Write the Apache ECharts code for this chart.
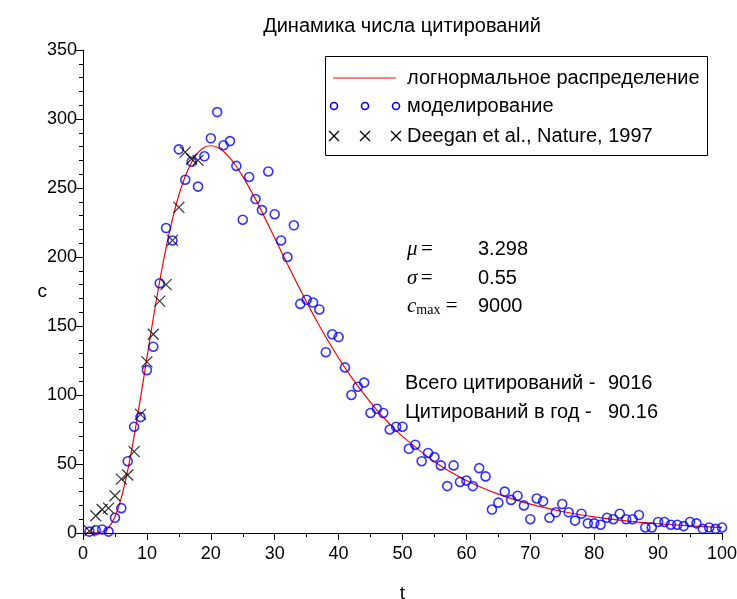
<!DOCTYPE html>
<html>
<head>
<meta charset="utf-8">
<script src="https://cdn.jsdelivr.net/npm/echarts@6/dist/echarts.min.js"></script>
<style>
  html, body { margin: 0; padding: 0; background: #fff; }
  #chart { width: 737px; height: 599px; }
</style>
</head>
<body>
<div id="chart"></div>
<script>
// логнормальная кривая
const curveT = [0, 1, 2, 3, 4, 5, 6, 7, 8, 9, 10, 11, 12, 13, 14, 15, 16, 17, 18, 19, 20,
  21, 22, 23, 24, 25, 26, 27, 28, 30, 32, 34, 36, 38, 40, 42, 44, 46, 48, 50,
  55, 60, 65, 70, 75, 80, 85, 90, 95, 100];
const curveC = [0, 0, 0.1, 0.7, 3.9, 11.7, 25.6, 45.5, 70, 97.8, 126.9, 155.6, 182.4, 206.6, 227.5, 244.9, 258.5, 268.7, 275.6, 279.5, 280.6,
  279.5, 276.4, 271.7, 265.6, 258.4, 250.4, 241.8, 232.7, 213.8, 194.7, 176.2, 158.5, 142, 126.8, 112.9, 100.4, 89.1, 79, 70,
  51.7, 38.1, 28.2, 20.9, 15.6, 11.7, 8.8, 6.7, 5.1, 3.9];

// моделирование, годы 1..100
const simC = [1, 2, 2.5, 1, 11, 18, 52, 77, 84, 118,
  135, 181, 221, 212, 278, 256, 269, 251, 273, 286,
  305, 281, 284, 266, 227, 258, 242, 234, 262, 231,
  212, 200, 223, 166, 169, 167, 162, 131, 144, 142,
  120, 100, 106, 109, 87, 90, 87, 75, 77, 77,
  61, 64, 52, 58, 55, 49, 34, 49, 37, 38,
  34, 47, 41, 17, 22, 30, 24, 27, 20, 10,
  25, 23, 11, 15, 21, 15, 9, 14, 7, 7,
  6, 11, 10, 14, 10, 10, 13, 4, 4, 8,
  8, 6, 6, 5, 8, 7, 3, 4, 3, 4];

// Deegan et al., Nature, 1997
const deeganT = [1, 2, 3, 4, 5, 6, 7, 8, 9, 10, 11, 12, 13, 14, 15, 16, 17, 18];
const deeganC = [1.5, 12.5, 17, 18, 27, 39, 42, 59, 86, 124, 144, 168, 180, 212, 236, 276, 271, 270];

const xTicks = [0, 10, 20, 30, 40, 50, 60, 70, 80, 90, 100];
const yTicks = [0, 50, 100, 150, 200, 250, 300, 350];

const FONT = "Arial, 'Liberation Sans', sans-serif";
const SERIF = "'Liberation Serif', 'DejaVu Serif', serif";
const TXT = "20px " + FONT;
const crossPath = "path://M0,0L10,10M10,0L0,10";

let chart = echarts.init(document.getElementById("chart"), null, { renderer: "canvas" });

let option = {
  animation: false,
  backgroundColor: "#fff",
  textStyle: { fontFamily: FONT },
  title: {
    text: "Динамика числа цитирований",
    left: 397,
    top: 11,
    textAlign: "center",
    textStyle: { fontFamily: FONT, fontSize: 20, fontWeight: "normal", color: "#000" }
  },
  grid: { left: 83, top: 50, width: 639, height: 483, containLabel: false, outerBoundsMode: "none" },
  xAxis: {
    type: "value",
    min: xTicks[0],
    max: xTicks[xTicks.length - 1],
    interval: 10,
    name: "t",
    nameLocation: "middle",
    nameGap: 51,
    nameMoveOverlap: false,
    nameTextStyle: { fontSize: 19, color: "#000", fontFamily: FONT },
    axisLine: { lineStyle: { color: "#000", width: 1 } },
    axisTick: { show: true, inside: false, length: 7, lineStyle: { color: "#000" } },
    minorTick: { show: true, splitNumber: 2, length: 4, lineStyle: { color: "#000" } },
    axisLabel: { fontSize: 18, color: "#000", margin: 12, fontFamily: FONT },
    splitLine: { show: false }
  },
  yAxis: {
    type: "value",
    min: yTicks[0],
    max: yTicks[yTicks.length - 1],
    interval: 50,
    name: "c",
    nameLocation: "middle",
    nameRotate: 0,
    nameGap: 36,
    nameMoveOverlap: false,
    nameTextStyle: { fontSize: 19, color: "#000", fontFamily: FONT, padding: [6, 0, 0, 0] },
    axisLine: { show: true, lineStyle: { color: "#000", width: 1 } },
    axisTick: { show: true, inside: false, length: 7, lineStyle: { color: "#000" } },
    minorTick: { show: true, splitNumber: 5, length: 4, lineStyle: { color: "#000" } },
    axisLabel: { fontSize: 18, color: "#000", margin: 6, fontFamily: FONT },
    splitLine: { show: false }
  },
  series: [
    {
      name: "логнормальное распределение",
      type: "line",
      data: curveT.map((t, i) => [t, curveC[i]]),
      smooth: 0.3,
      symbol: "none",
      lineStyle: { color: "#ff0000", width: 1.2 },
      z: 2
    },
    {
      name: "моделирование",
      type: "scatter",
      data: simC.map((c, i) => [i + 1, c]),
      symbol: "circle",
      symbolSize: 9,
      itemStyle: { color: "rgba(255,255,255,0)", borderColor: "#0000ff", borderWidth: 1.6 },
      z: 3
    },
    {
      name: "Deegan et al., Nature, 1997",
      type: "scatter",
      data: deeganT.map((t, i) => [t, deeganC[i]]),
      symbol: crossPath,
      symbolSize: 11,
      itemStyle: { color: "rgba(0,0,0,0)", borderColor: "#000", borderWidth: 1.2 },
      z: 4
    }
  ],
  graphic: [
    // легенда
    { type: "rect", shape: { x: 325.5, y: 56.5, width: 382, height: 99 },
      style: { fill: "#fff", stroke: "#000", lineWidth: 1 }, z: 10 },
    { type: "line", shape: { x1: 333, y1: 78, x2: 396, y2: 78 },
      style: { stroke: "#ff0000", lineWidth: 1.2 }, z: 11 },
    { type: "circle", shape: { cx: 334, cy: 106, r: 3.5 }, style: { fill: "none", stroke: "#0000ff", lineWidth: 1.6 }, z: 11 },
    { type: "circle", shape: { cx: 365, cy: 106, r: 3.5 }, style: { fill: "none", stroke: "#0000ff", lineWidth: 1.6 }, z: 11 },
    { type: "circle", shape: { cx: 396, cy: 106, r: 3.5 }, style: { fill: "none", stroke: "#0000ff", lineWidth: 1.6 }, z: 11 },
    { type: "polyline", shape: { points: [[329, 131], [339, 141]] }, style: { stroke: "#000", lineWidth: 1.2 }, z: 11 },
    { type: "polyline", shape: { points: [[339, 131], [329, 141]] }, style: { stroke: "#000", lineWidth: 1.2 }, z: 11 },
    { type: "polyline", shape: { points: [[360, 131], [370, 141]] }, style: { stroke: "#000", lineWidth: 1.2 }, z: 11 },
    { type: "polyline", shape: { points: [[370, 131], [360, 141]] }, style: { stroke: "#000", lineWidth: 1.2 }, z: 11 },
    { type: "polyline", shape: { points: [[391, 131], [401, 141]] }, style: { stroke: "#000", lineWidth: 1.2 }, z: 11 },
    { type: "polyline", shape: { points: [[401, 131], [391, 141]] }, style: { stroke: "#000", lineWidth: 1.2 }, z: 11 },
    { type: "text", x: 407, y: 78, z: 11,
      style: { text: "логнормальное распределение", font: TXT, fill: "#000", verticalAlign: "middle" } },
    { type: "text", x: 407, y: 106, z: 11,
      style: { text: "моделирование", font: TXT, fill: "#000", verticalAlign: "middle" } },
    { type: "text", x: 407, y: 136, z: 11,
      style: { text: "Deegan et al., Nature, 1997", font: TXT, fill: "#000", verticalAlign: "middle" } },

    // параметры
    { type: "text", x: 407, y: 249, z: 11,
      style: { text: "{i|μ} {n|=}", verticalAlign: "middle",
        rich: { i: { fontFamily: SERIF, fontStyle: "italic", fontSize: 21, fill: "#000" },
                n: { fontFamily: SERIF, fontSize: 21, fill: "#000" } } } },
    { type: "text", x: 478, y: 249, z: 11,
      style: { text: "3.298", font: TXT, fill: "#000", verticalAlign: "middle" } },
    { type: "text", x: 407, y: 278, z: 11,
      style: { text: "{i|σ} {n|=}", verticalAlign: "middle",
        rich: { i: { fontFamily: SERIF, fontStyle: "italic", fontSize: 21, fill: "#000" },
                n: { fontFamily: SERIF, fontSize: 21, fill: "#000" } } } },
    { type: "text", x: 478, y: 278, z: 11,
      style: { text: "0.55", font: TXT, fill: "#000", verticalAlign: "middle" } },
    { type: "text", x: 407, y: 306, z: 11,
      style: { text: "{i|c}{s|max}{n| =}", verticalAlign: "middle",
        rich: { i: { fontFamily: SERIF, fontStyle: "italic", fontSize: 21, fill: "#000" },
                s: { fontFamily: SERIF, fontSize: 14, fill: "#000", padding: [8, 0, 0, 0] },
                n: { fontFamily: SERIF, fontSize: 21, fill: "#000" } } } },
    { type: "text", x: 478, y: 306, z: 11,
      style: { text: "9000", font: TXT, fill: "#000", verticalAlign: "middle" } },

    { type: "text", x: 405, y: 383, z: 11,
      style: { text: "Всего цитирований -", font: TXT, fill: "#000", verticalAlign: "middle" } },
    { type: "text", x: 608, y: 383, z: 11,
      style: { text: "9016", font: TXT, fill: "#000", verticalAlign: "middle" } },
    { type: "text", x: 405, y: 412, z: 11,
      style: { text: "Цитирований в год -", font: TXT, fill: "#000", verticalAlign: "middle" } },
    { type: "text", x: 608, y: 412, z: 11,
      style: { text: "90.16", font: TXT, fill: "#000", verticalAlign: "middle" } }
  ]
};

chart.setOption(option);
window.onresize = function() {
  chart.resize();
};
</script>
</body>
</html>
